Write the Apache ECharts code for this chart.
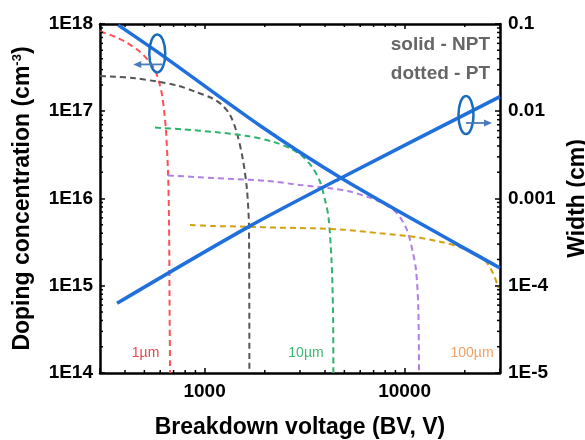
<!DOCTYPE html>
<html>
<head>
<meta charset="utf-8">
<script src="https://cdn.jsdelivr.net/npm/echarts@6/dist/echarts.min.js"></script>
<style>
  body { margin: 0; background: #fff; }
  #main { width: 585px; height: 440px; }
</style>
</head>
<body>
<div id="main"></div>
<script>
// NPT (solid blue) curves
var nptDopingBV = [370, 612, 1937, 4810, 18285, 30000];
var nptDoping = [9.7e17, 4.4e17, 6.6e16, 1.72e16, 3.0e15, 1.6e15];
var nptWidthBV = [365, 1648, 4810, 30000];
var nptWidth = [6.3e-5, 4.7e-4, 1.72e-3, 0.0147];

// PT (dotted) curves, doping vs BV
var pt1BV = [300, 357, 414, 475, 521, 565, 592, 613, 627, 641, 656, 664, 668, 672];
var pt1Doping = [8.2e17, 7.15e17, 6.0e17, 4.8e17, 3.87e17, 2.97e17, 2.16e17, 1.53e17, 1.03e17, 6.1e16, 2.1e16, 5.7e15, 6.9e14, 1e14];
var pt2BV = [300, 357, 449, 585, 736, 896, 1089, 1222, 1340, 1452, 1556, 1630, 1668, 1675];
var pt2Doping = [2.54e17, 2.49e17, 2.39e17, 2.18e17, 1.96e17, 1.68e17, 1.41e17, 1.18e17, 9.1e16, 5.6e16, 2.76e16, 1.25e16, 4.4e15, 1e14];
var pt10BV = [565, 780, 1154, 1630, 2198, 2674, 3105, 3484, 3777, 4003, 4165, 4311, 4387, 4404];
var pt10Doping = [6.5e16, 6.2e16, 5.74e16, 5.2e16, 4.48e16, 3.76e16, 3.01e16, 2.22e16, 1.56e16, 9.6e15, 6.1e15, 1.97e15, 5.3e14, 1e14];
var pt4BV = [656, 949, 1387, 2052, 3000, 4238, 5335, 6488, 7800, 9165, 10280, 11020, 11410, 11710, 11810];
var pt4Doping = [1.84e16, 1.75e16, 1.67e16, 1.59e16, 1.43e16, 1.31e16, 1.2e16, 1.05e16, 8.8e15, 6.76e15, 4.36e15, 2.37e15, 1.51e15, 5.7e14, 1e14];
var pt100BV = [845, 1102, 1630, 2383, 3484, 5154, 7536, 11020, 15036, 19590, 24670, 27680, 29480];
var pt100Doping = [4.97e15, 4.84e15, 4.75e15, 4.63e15, 4.55e15, 4.36e15, 3.99e15, 3.65e15, 3.2e15, 2.69e15, 2.07e15, 1.39e15, 9.4e14];

// minor tick values (log axes)
var xMinorTicks = [400, 500, 600, 700, 800, 900, 2000, 3000, 4000, 5000, 6000, 7000, 8000, 9000, 20000];
var yMinorTicks = [2e14, 3e14, 4e14, 5e14, 6e14, 7e14, 8e14, 9e14,
  2e15, 3e15, 4e15, 5e15, 6e15, 7e15, 8e15, 9e15,
  2e16, 3e16, 4e16, 5e16, 6e16, 7e16, 8e16, 9e16,
  2e17, 3e17, 4e17, 5e17, 6e17, 7e17, 8e17, 9e17];

// annotations
var thicknessLabels = ['1µm', '10µm', '100µm'];
var thicknessLabelBV = [507, 3214, 21740];
var thicknessLabelDoping = 1.7e14;
var leftMarker = [580, 4.6e17];     // on doping axis
var rightMarker = [20280, 0.00906]; // on width axis

var FONT = 'Arial, "Liberation Sans", sans-serif';

function pairs(xs, ys) {
  var out = [];
  for (var i = 0; i < xs.length; i++) out.push([xs[i], ys[i]]);
  return out;
}

function exp10(v) { return Math.round(Math.log10(v)); }
function isDecade(v) {
  var e = exp10(v);
  return Math.abs(v - Math.pow(10, e)) < 1e-6 * v;
}

var minorData = [];
xMinorTicks.forEach(function (v) { minorData.push([v, 1e16, 0]); });
yMinorTicks.forEach(function (v) { minorData.push([1000, v, 1]); });

function renderMinorTick(params, api) {
  var cs = params.coordSys;
  var len = 3;
  var st = { stroke: '#000', lineWidth: 1.5 };
  if (api.value(2) === 0) {
    var px = api.coord([api.value(0), 1e16])[0];
    return { type: 'group', children: [
      { type: 'line', shape: { x1: px, y1: cs.y + cs.height, x2: px, y2: cs.y + cs.height - len }, style: st },
      { type: 'line', shape: { x1: px, y1: cs.y, x2: px, y2: cs.y + len }, style: st }
    ] };
  }
  var py = api.coord([1000, api.value(1)])[1];
  return { type: 'group', children: [
    { type: 'line', shape: { x1: cs.x, y1: py, x2: cs.x + len, y2: py }, style: st },
    { type: 'line', shape: { x1: cs.x + cs.width, y1: py, x2: cs.x + cs.width - len, y2: py }, style: st }
  ] };
}

function dashed(name, xs, ys, color) {
  return {
    name: name, type: 'line', data: pairs(xs, ys),
    xAxisIndex: 0, yAxisIndex: 0,
    showSymbol: false, smooth: 0.3, silent: true,
    lineStyle: { color: color, width: 2, type: [6, 4] },
    z: 2
  };
}

var axisLineStyle = { show: true, onZero: false, lineStyle: { color: '#000', width: 2.5 } };
var tickStyle = { show: true, inside: true, length: 5, lineStyle: { color: '#000', width: 1.5 } };
var labelStyle = { color: '#000', fontSize: 19, fontWeight: 'bold', fontFamily: FONT };

var chart = echarts.init(document.getElementById('main'));

var option = {
  animation: false,
  grid: { left: 100, right: 85, top: 24, bottom: 67, outerBoundsMode: 'none', containLabel: false },
  xAxis: [
    {
      type: 'log', min: 300, max: 30000, position: 'bottom',
      name: 'Breakdown voltage (BV, V)', nameLocation: 'middle', nameGap: 43,
      nameTextStyle: { color: '#000', fontSize: 23, fontWeight: 'bold', fontFamily: FONT },
      axisLine: axisLineStyle, axisTick: tickStyle, splitLine: { show: false },
      axisLabel: Object.assign({ margin: 9, formatter: function (v) {
        return isDecade(v) ? String(Math.pow(10, exp10(v))) : '';
      } }, labelStyle)
    },
    {
      type: 'log', min: 300, max: 30000, position: 'top',
      axisLine: axisLineStyle, axisTick: tickStyle, splitLine: { show: false },
      axisLabel: { show: false }
    }
  ],
  yAxis: [
    {
      type: 'log', min: 1e14, max: 1e18, position: 'left',
      name: '{a|Doping concentration (cm}{s|-3}{a|)}', nameLocation: 'middle', nameGap: 66, nameRotate: 90,
      nameTextStyle: { rich: {
        a: { color: '#000', fontSize: 23, fontWeight: 'bold', fontFamily: FONT },
        s: { color: '#000', fontSize: 13, fontWeight: 'bold', fontFamily: FONT, verticalAlign: 'top' }
      } },
      axisLine: axisLineStyle, axisTick: tickStyle, splitLine: { show: false },
      axisLabel: Object.assign({ margin: 7, formatter: function (v) {
        return isDecade(v) ? '1E' + exp10(v) : '';
      } }, labelStyle)
    },
    {
      type: 'log', min: 1e-5, max: 0.1, position: 'right',
      name: 'Width (cm)', nameLocation: 'middle', nameGap: 48, nameRotate: 90,
      nameTextStyle: { color: '#000', fontSize: 23, fontWeight: 'bold', fontFamily: FONT },
      axisLine: axisLineStyle, axisTick: tickStyle, splitLine: { show: false },
      axisLabel: Object.assign({ margin: 8, formatter: function (v) {
        if (!isDecade(v)) return '';
        var e = exp10(v);
        return e >= -3 ? Math.pow(10, e).toFixed(-e) : '1E' + e;
      } }, labelStyle)
    }
  ],
  series: [
    dashed('PT 1µm', pt1BV, pt1Doping, '#ff4f55'),
    dashed('PT 2', pt2BV, pt2Doping, '#555555'),
    dashed('PT 10µm', pt10BV, pt10Doping, '#2fb36c'),
    dashed('PT 4', pt4BV, pt4Doping, '#b17ee6'),
    dashed('PT 100µm', pt100BV, pt100Doping, '#d4a00c'),
    {
      name: 'NPT doping', type: 'line', data: pairs(nptDopingBV, nptDoping),
      xAxisIndex: 0, yAxisIndex: 0, showSymbol: false, smooth: 0.3, silent: true,
      lineStyle: { color: '#1f6fdc', width: 3.5 }, z: 3
    },
    {
      name: 'NPT width', type: 'line', data: pairs(nptWidthBV, nptWidth),
      xAxisIndex: 0, yAxisIndex: 1, showSymbol: false, smooth: 0.3, silent: true,
      lineStyle: { color: '#1f6fdc', width: 3.5 }, z: 3
    },
    {
      name: 'minor ticks', type: 'custom', data: minorData,
      xAxisIndex: 0, yAxisIndex: 0, renderItem: renderMinorTick,
      silent: true, clip: false, z: 4
    }
  ]
};
chart.setOption(option);

// annotation overlay (ellipses, arrows, labels)
var lp = chart.convertToPixel({ xAxisIndex: 0, yAxisIndex: 0 }, leftMarker);
var rp = chart.convertToPixel({ xAxisIndex: 0, yAxisIndex: 1 }, rightMarker);
var arrowColor = '#4a7bbd';
var ellipseColor = '#1a6cb8';

function arrow(x1, x2, y) {
  var dir = x2 > x1 ? 1 : -1;
  return [
    { type: 'line', shape: { x1: x1, y1: y, x2: x2 - dir * 6, y2: y }, style: { stroke: arrowColor, lineWidth: 1.8 }, z: 10 },
    { type: 'polygon', shape: { points: [[x2, y], [x2 - dir * 8, y - 3.5], [x2 - dir * 8, y + 3.5]] }, style: { fill: arrowColor }, z: 10 }
  ];
}

var graphics = [
  { type: 'ellipse', shape: { cx: lp[0], cy: lp[1], rx: 8, ry: 19 }, style: { fill: null, stroke: ellipseColor, lineWidth: 2.5 }, z: 10 },
  { type: 'ellipse', shape: { cx: rp[0], cy: rp[1], rx: 7.5, ry: 19 }, style: { fill: null, stroke: ellipseColor, lineWidth: 2.5 }, z: 10 }
].concat(arrow(lp[0] + 5, lp[0] - 24, lp[1] + 11))
 .concat(arrow(rp[0], rp[0] + 26, rp[1] + 8));

var labelColors = ['#e8464c', '#3cba74', '#f2a062'];
thicknessLabels.forEach(function (t, i) {
  var p = chart.convertToPixel({ xAxisIndex: 0, yAxisIndex: 0 }, [thicknessLabelBV[i], thicknessLabelDoping]);
  graphics.push({
    type: 'text', x: p[0], y: p[1], z: 10,
    style: { text: t, fill: labelColors[i], font: '14px ' + FONT, align: 'center', verticalAlign: 'middle' }
  });
});

graphics.push({ type: 'text', x: 490, y: 45, z: 10,
  style: { text: 'solid - NPT', fill: '#666', font: 'bold 19px ' + FONT, align: 'right', verticalAlign: 'middle' } });
graphics.push({ type: 'text', x: 490, y: 74, z: 10,
  style: { text: 'dotted - PT', fill: '#666', font: 'bold 19px ' + FONT, align: 'right', verticalAlign: 'middle' } });

chart.setOption({ graphic: graphics });
</script>
</body>
</html>
